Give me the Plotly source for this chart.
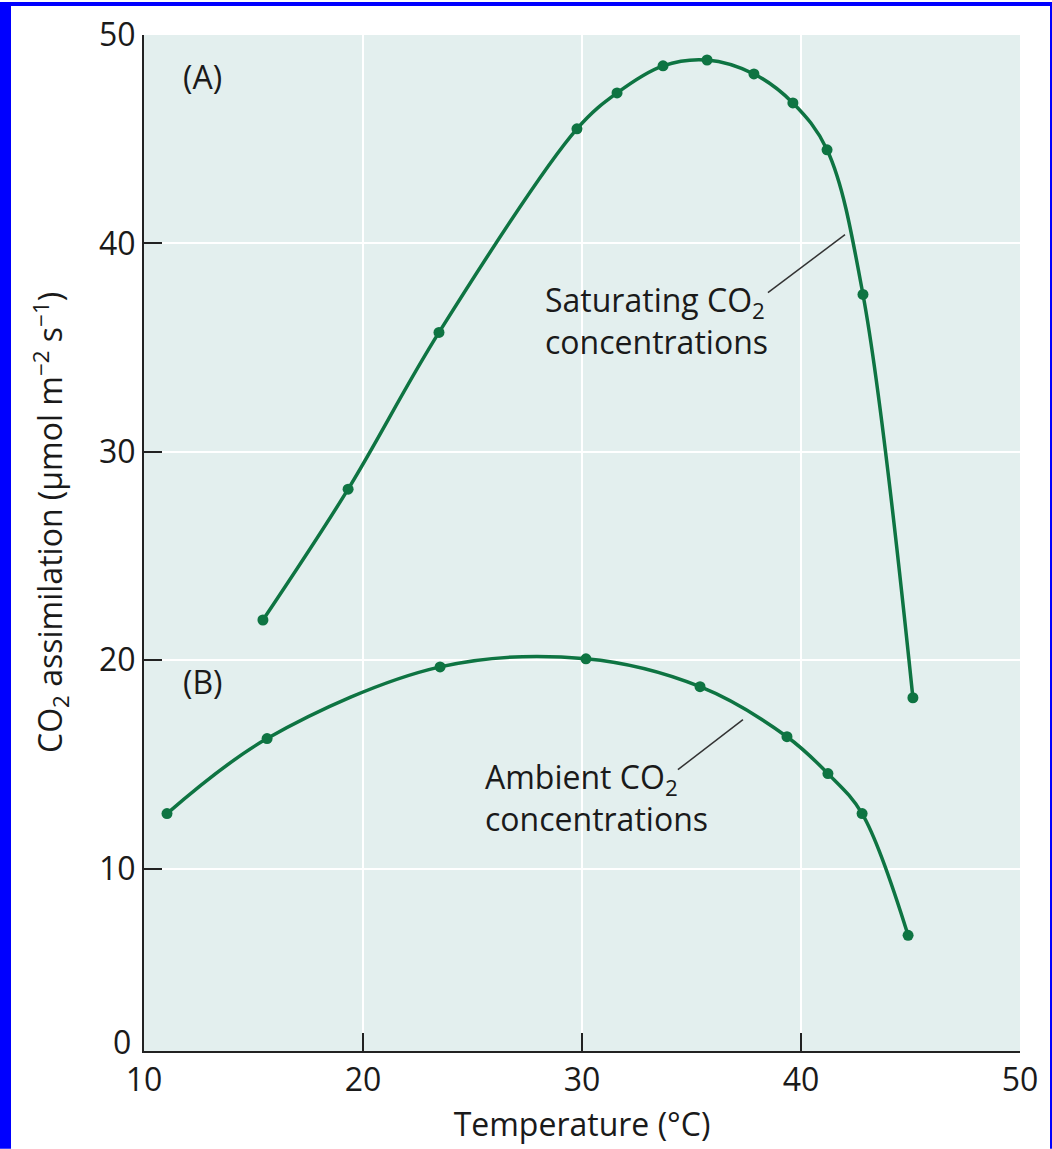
import plotly.graph_objects as go

# Data
sat_temp = [15.43, 19.32, 23.47, 29.77, 31.6, 33.7, 35.71, 37.85, 39.63, 41.19, 42.83, 45.11]
sat_co2 = [21.93, 28.21, 35.73, 45.50, 47.22, 48.52, 48.80, 48.13, 46.74, 44.49, 37.55, 18.20]

amb_temp = [11.05, 15.62, 23.52, 30.18, 35.39, 39.36, 41.23, 42.79, 44.89]
amb_co2 = [12.64, 16.24, 19.68, 20.07, 18.73, 16.33, 14.56, 12.64, 6.80]

x_ticks = [10, 20, 30, 40, 50]
y_ticks = [10, 20, 30, 40, 50]

sat_label = "Saturating CO<sub>2</sub><br>concentrations"
amb_label = "Ambient CO<sub>2</sub><br>concentrations"
x_title = "Temperature (°C)"
y_title = "CO<sub>2</sub> assimilation (μmol m<sup>−2</sup> s<sup>−1</sup>)"

GREEN = "#0e7442"
TXT = "#1a1a1a"
FONT = "Open Sans"
FS = 32

fig = go.Figure()
for xs, ys in [(sat_temp, sat_co2), (amb_temp, amb_co2)]:
    fig.add_trace(go.Scatter(
        x=xs, y=ys, mode="lines+markers",
        line=dict(color=GREEN, width=3.5, shape="spline", smoothing=1.0),
        marker=dict(color=GREEN, size=11),
        showlegend=False, hoverinfo="x+y",
    ))

annos = [
    dict(x=11.69, y=48.0, text="(A)", xanchor="left", yanchor="middle"),
    dict(x=11.69, y=19.0, text="(B)", xanchor="left", yanchor="middle"),
    dict(x=28.22, y=36.3, text=sat_label, xanchor="left", yanchor="middle", align="left"),
    dict(x=25.48, y=13.4, text=amb_label, xanchor="left", yanchor="middle", align="left"),
]
for a in annos:
    fig.add_annotation(showarrow=False, font=dict(family=FONT, size=FS, color=TXT), **a)

# "0" label at the bottom of the y axis
fig.add_annotation(xref="paper", yref="paper", x=0, y=0, xanchor="right", yanchor="middle",
                   xshift=-11, yshift=10, text="0", showarrow=False,
                   font=dict(family=FONT, size=FS, color=TXT))

# y-axis title
fig.add_annotation(xref="paper", yref="paper", x=-0.107, y=0.52, xanchor="center", yanchor="middle",
                   text=y_title, textangle=-90, showarrow=False,
                   font=dict(family=FONT, size=FS, color=TXT))

# leader lines
leaders = [((38.49, 37.64), (42.01, 40.42)), ((34.38, 14.75), (37.35, 17.15))]
for (x0, y0), (x1, y1) in leaders:
    fig.add_shape(type="line", x0=x0, y0=y0, x1=x1, y1=y1, xref="x", yref="y",
                  line=dict(color="#333", width=1.5))

# blue frame (left, top, right)
L, R, T, B = 144, 32, 33, 98
W, H = 1052, 1149
pw, ph = W - L - R, H - T - B
def px(v):
    return (v - L) / pw
def py(v):
    return (H - B - v) / ph
for (a, b, c, d) in [(0, 0, 11, H), (0, 0, W, 4), (1050, 0, W, H)]:
    fig.add_shape(type="rect", xref="paper", yref="paper",
                  x0=px(a), x1=px(c), y0=py(d), y1=py(b),
                  fillcolor="#0000ff", line=dict(width=0), layer="above")

fig.update_layout(
    width=W, height=H,
    margin=dict(l=L, r=R, t=T, b=B),
    paper_bgcolor="white",
    plot_bgcolor="#e3efee",
    font=dict(family=FONT, size=FS, color=TXT),
)
fig.update_xaxes(
    range=[10, 50], tickvals=x_ticks, ticks="inside", ticklen=18, tickwidth=1.5,
    tickcolor="#222", showline=True, linecolor="#222", linewidth=2,
    showgrid=True, gridcolor="white", gridwidth=2, zeroline=False,
    title=dict(text=x_title, font=dict(family=FONT, size=FS), standoff=14),
)
fig.update_yaxes(
    range=[1.25, 50], tickvals=y_ticks, ticks="inside", ticklen=18, tickwidth=1.5,
    tickcolor="#222", showline=True, linecolor="#222", linewidth=2,
    showgrid=True, gridcolor="white", gridwidth=2, zeroline=False,
)

fig.write_html("out.html")
